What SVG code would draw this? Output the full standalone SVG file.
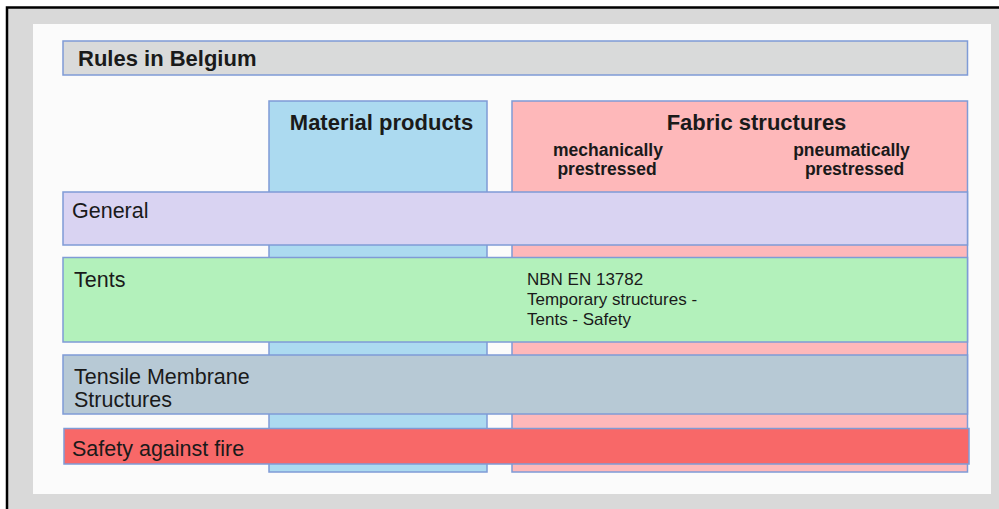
<svg xmlns="http://www.w3.org/2000/svg" width="999" height="509" viewBox="0 0 999 509">
  <style>
    .box { stroke: #7f9bd6; stroke-width: 1.5; }
    text { font-family: "Liberation Sans", Arial, sans-serif; fill: #1a1a1a; }
    .hd { font-size: 22px; font-weight: bold; }
    .sub { font-size: 17.5px; font-weight: bold; text-anchor: middle; }
    .row { font-size: 21.5px; }
    .std { font-size: 17px; }
  </style>
  <!-- frame -->
  <rect x="0" y="0" width="999" height="509" fill="#ffffff"/>
  <rect x="7" y="8" width="992" height="501" fill="#d9d9d9"/>
  <path d="M7 509 V7.5 H999" fill="none" stroke="#000000" stroke-width="2.5"/>
  <rect x="33" y="24" width="958" height="470" fill="#fbfbfb"/>

  <g id="title">
    <rect class="box" x="63" y="41" width="904.5" height="34" fill="#d9dada"/>
    <text class="hd" x="78" y="66">Rules in Belgium</text>
  </g>

  <g id="material-products">
    <rect class="box" x="269" y="101" width="218" height="371" fill="#acdaf0"/>
    <text class="hd" x="381.5" y="130" text-anchor="middle">Material products</text>
  </g>

  <g id="fabric-structures">
    <rect class="box" x="512" y="101" width="455.5" height="371" fill="#feb8ba"/>
    <text class="hd" x="756.5" y="130" text-anchor="middle">Fabric structures</text>
    <text class="sub" x="608" y="155.5">mechanically</text>
    <text class="sub" x="607" y="175">prestressed</text>
    <text class="sub" x="851.5" y="155.5">pneumatically</text>
    <text class="sub" x="854.5" y="175">prestressed</text>
  </g>

  <g id="general">
    <rect class="box" x="63" y="192" width="904.5" height="53" fill="#d9d3f2"/>
    <text class="row" x="72" y="218">General</text>
  </g>

  <g id="tents">
    <rect class="box" x="63" y="257.5" width="904.5" height="84.5" fill="#b3f1bb"/>
    <text class="row" x="74" y="286.5">Tents</text>
    <text class="std" x="527" y="285">NBN EN 13782</text>
    <text class="std" x="527" y="305">Temporary structures -</text>
    <text class="std" x="527" y="325">Tents - Safety</text>
  </g>

  <g id="tensile-membrane">
    <rect class="box" x="63" y="355" width="904.5" height="59" fill="#b7c9d5"/>
    <text class="row" x="74" y="384">Tensile Membrane</text>
    <text class="row" x="74" y="407">Structures</text>
  </g>

  <g id="fire-safety">
    <rect class="box" x="64" y="428.5" width="905" height="35.5" fill="#f86868"/>
    <text class="row" x="72" y="455.5">Safety against fire</text>
  </g>

  <g id="connectors"/>
</svg>
